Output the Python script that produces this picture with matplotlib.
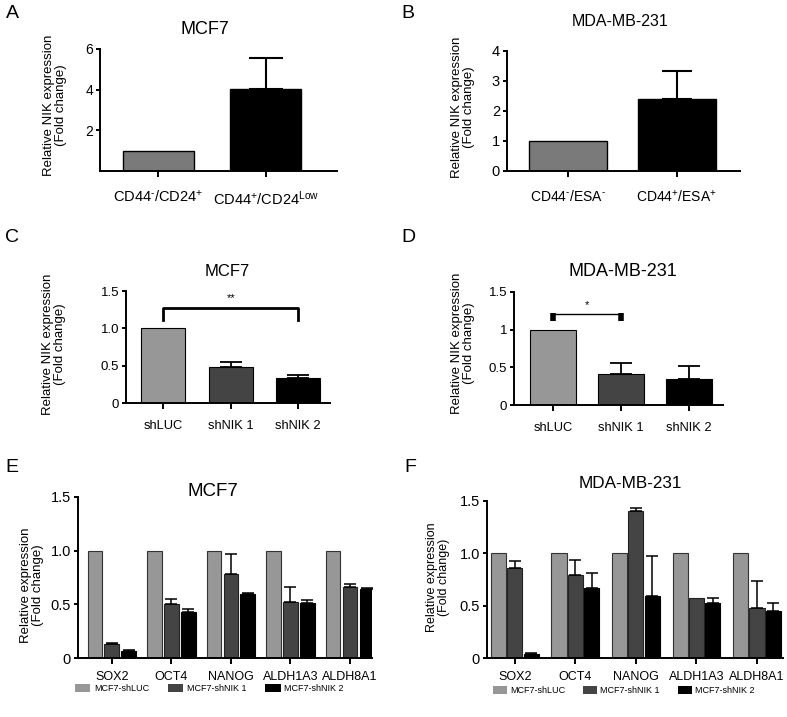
import numpy as np
import matplotlib
matplotlib.use('Agg')
import matplotlib.pyplot as plt
from matplotlib.patches import Patch

plt.rcParams['font.family'] = ['Liberation Sans', 'DejaVu Sans']
plt.rcParams['mathtext.fontset'] = 'custom'
plt.rcParams['mathtext.rm'] = 'Liberation Sans'
plt.rcParams['mathtext.default'] = 'regular'

# ---- data ----
a_labels = [r'CD44$^{\text{-}}$/CD24$^{+}$', r'CD44$^{+}$/CD24$^{Low}$']
a_mean = [1.0, 4.03]
a_err = [0.0, 1.54]

b_labels = [r'CD44$^{\text{-}}$/ESA$^{\text{-}}$', r'CD44$^{+}$/ESA$^{+}$']
b_mean = [1.0, 2.40]
b_err = [0.0, 0.94]

sh_labels = ['shLUC', 'shNIK 1', 'shNIK 2']
c_mean = [1.0, 0.476, 0.334]
c_err = [0.0, 0.067, 0.036]
d_mean = [1.0, 0.416, 0.34]
d_err = [0.0, 0.137, 0.178]

genes = ['SOX2', 'OCT4', 'NANOG', 'ALDH1A3', 'ALDH8A1']
groups = ['MCF7-shLUC', 'MCF7-shNIK 1', 'MCF7-shNIK 2']
e_shluc = [1.0, 1.0, 1.0, 1.0, 1.0]
e_shnik1 = [0.13, 0.50, 0.78, 0.52, 0.665]
e_shnik1_err = [0.01, 0.05, 0.19, 0.14, 0.025]
e_shnik2 = [0.066, 0.43, 0.60, 0.515, 0.64]
e_shnik2_err = [0.006, 0.025, 0.005, 0.025, 0.01]

f_shluc = [1.0, 1.0, 1.0, 1.0, 1.0]
f_shnik1 = [0.856, 0.79, 1.40, 0.575, 0.48]
f_shnik1_err = [0.075, 0.15, 0.03, 0.0, 0.26]
f_shnik2 = [0.04, 0.67, 0.59, 0.53, 0.45]
f_shnik2_err = [0.012, 0.14, 0.38, 0.04, 0.08]

grey_a = '#7a7a7a'
light = '#979797'
dark = '#444444'
blk = '#000000'

W, H = 787, 717
fig = plt.figure(figsize=(W / 100, H / 100), dpi=100)


def box(l, t, r, b):
    return [l / W, 1 - b / H, (r - l) / W, (b - t) / H]


def ftext(x, y, s, **kw):
    fig.text(x / W, 1 - y / H, s, ha=kw.pop('ha', 'center'), va=kw.pop('va', 'center'), **kw)


def style(ax, ysize, xsize, xpad):
    for s in ['top', 'right']:
        ax.spines[s].set_visible(False)
    for s in ['left', 'bottom']:
        ax.spines[s].set_linewidth(1.4)
    ax.tick_params(axis='y', width=1.4, length=3, labelsize=ysize, pad=2)
    ax.tick_params(axis='x', width=1.4, length=4, labelsize=xsize, pad=xpad)


def errs(ax, x, mean, err, cap, lw):
    # only the bars that carry an error bar
    x, mean, err = np.asarray(x), np.asarray(mean), np.asarray(err)
    k = err > 0
    ax.errorbar(x[k], mean[k], yerr=[np.zeros(k.sum()), err[k]], fmt='none',
                ecolor='black', elinewidth=lw, capsize=cap, capthick=lw)


def ylab(x, y, s, size):
    ftext(x, y, s, rotation=90, fontsize=size, multialignment='center', linespacing=1.1)


# ---- A ----
ax = fig.add_axes(box(100, 49, 337, 171))
x = np.arange(2)
ax.bar(x, a_mean, 0.66, color=[grey_a, blk], edgecolor='black', linewidth=1)
errs(ax, x, a_mean, a_err, 12, 1.5)
ax.set_xlim(-0.54, 1.66)
ax.set_ylim(0, 6)
ax.set_yticks([2, 4, 6])
ax.set_xticks(x, a_labels)
style(ax, 10, 10.5, 9)
ftext(205, 29, 'MCF7', fontsize=13)
ylab(55, 105, 'Relative NIK expression\n(Fold change)', 9.5)

# ---- B ----
ax = fig.add_axes(box(507, 51, 740, 171))
ax.bar(x, b_mean, 0.72, color=[grey_a, blk], edgecolor='black', linewidth=1)
errs(ax, x, b_mean, b_err, 11, 1.5)
ax.set_xlim(-0.56, 1.58)
ax.set_ylim(0, 4)
ax.set_yticks([0, 1, 2, 3, 4])
ax.set_xticks(x, b_labels)
style(ax, 10.5, 10, 9)
ftext(620, 22, 'MDA-MB-231', fontsize=11.5)
ylab(463, 107, 'Relative NIK expression\n(Fold change)', 9.5)

# ---- C ----
x3 = np.arange(3)
ax = fig.add_axes(box(126, 291, 330, 403))
ax.bar(x3, c_mean, 0.65, color=[light, dark, blk], edgecolor='black', linewidth=0.8)
errs(ax, x3, c_mean, c_err, 8, 1.3)
ax.plot([0, 0, 2, 2], [1.11, 1.27, 1.27, 1.11], color='black', lw=2)
ax.text(1, 1.41, '**', ha='center', va='center', fontsize=8)
ax.set_xlim(-0.55, 2.47)
ax.set_ylim(0, 1.5)
ax.set_yticks([0, 0.5, 1.0, 1.5], ['0', '0.5', '1.0', '1.5'])
ax.set_xticks(x3, sh_labels)
style(ax, 9.5, 9.3, 8)
ftext(227, 272, 'MCF7', fontsize=12)
ylab(54, 344, 'Relative NIK expression\n(Fold change)', 9.5)

# ---- D ----
ax = fig.add_axes(box(514, 292, 723, 405))
ax.bar(x3, d_mean, 0.67, color=[light, dark, blk], edgecolor='black', linewidth=0.8)
errs(ax, x3, d_mean, d_err, 8, 1.3)
ax.plot([0, 1], [1.21, 1.21], color='black', lw=1)
ax.plot([0, 0], [1.12, 1.22], color='black', lw=4, solid_capstyle='butt')
ax.plot([1, 1], [1.12, 1.22], color='black', lw=4, solid_capstyle='butt')
ax.text(0.5, 1.33, '*', ha='center', va='center', fontsize=8)
ax.set_xlim(-0.57, 2.5)
ax.set_ylim(0, 1.5)
ax.set_yticks([0, 0.5, 1.0, 1.5], ['0', '0.5', '1', '1.5'])
ax.set_xticks(x3, sh_labels)
style(ax, 9.5, 9.3, 8)
ftext(623, 272, 'MDA-MB-231', fontsize=13)
ylab(463, 343, 'Relative NIK expression\n(Fold change)', 9.5)


# ---- E / F grouped bars ----
def grouped(ax, base, m1, e1, m2, e2, off):
    g = np.arange(len(genes))
    w = 0.25
    ax.bar(g - off, base, w, color=light, edgecolor='#333333', linewidth=0.8, label=groups[0])
    ax.bar(g, m1, w, color=dark, edgecolor='#222222', linewidth=0.8, label=groups[1])
    ax.bar(g + off, m2, w, color=blk, edgecolor='black', linewidth=0.8, label=groups[2])
    errs(ax, g, m1, e1, 4, 1.1)
    errs(ax, g + off, m2, e2, 4, 1.1)
    ax.set_ylim(0, 1.5)
    ax.set_yticks([0, 0.5, 1.0, 1.5], ['0', '0.5', '1.0', '1.5'])
    ax.set_xticks(g, genes)
    style(ax, 10.5, 9, 5)


ax = fig.add_axes(box(78, 497, 372, 658))
grouped(ax, e_shluc, e_shnik1, e_shnik1_err, e_shnik2, e_shnik2_err, 0.285)
ax.set_xlim(-0.57, 4.37)
ftext(213, 492, 'MCF7', fontsize=13.5)
ylab(32, 585, 'Relative expression\n(Fold change)', 9.5)
handles = [Patch(facecolor=light), Patch(facecolor=dark), Patch(facecolor=blk)]
fig.legend(handles, groups, loc='upper left', bbox_to_anchor=(75 / W, 1 - 684 / H),
           ncol=3, frameon=False, fontsize=6.5, handlelength=1.7, handleheight=1.0,
           handletextpad=0.4, columnspacing=2.1, borderaxespad=0, borderpad=0)

ax = fig.add_axes(box(487, 501, 783, 658))
grouped(ax, f_shluc, f_shnik1, f_shnik1_err, f_shnik2, f_shnik2_err, 0.27)
ax.set_xlim(-0.46, 4.43)
ftext(630, 483, 'MDA-MB-231', fontsize=12.3)
ylab(438, 577, 'Relative expression\n(Fold change)', 9)
fig.legend(handles, groups, loc='upper left', bbox_to_anchor=(493 / W, 1 - 686 / H),
           ncol=3, frameon=False, fontsize=6.5, handlelength=1.5, handleheight=1.0,
           handletextpad=0.4, columnspacing=2.0, borderaxespad=0, borderpad=0)

# ---- panel letters ----
for lx, ly, s in [(12, 14, 'A'), (408, 14, 'B'), (12, 237, 'C'), (408, 237, 'D'),
                  (12, 467, 'E'), (410, 467, 'F')]:
    ftext(lx, ly, s, fontsize=14)

fig.savefig('out.png', dpi=100)
